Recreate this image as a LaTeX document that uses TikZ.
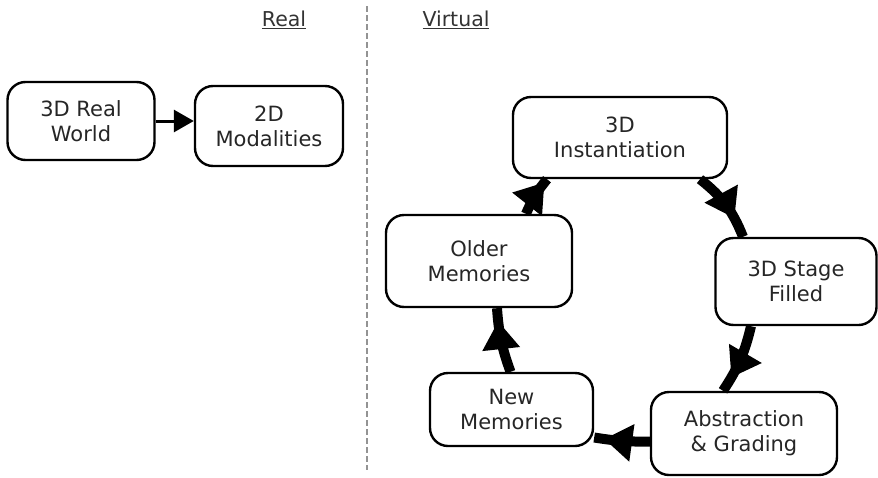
\documentclass[tikz,border=0pt]{standalone}
\usepackage{fontspec}
\setmainfont{DejaVu Sans}
\usetikzlibrary{arrows.meta,decorations.markings}

\begin{document}
\begin{tikzpicture}[x=1pt,y=-1pt,
  box/.style={draw, line width=2.4pt, rounded corners=18pt, align=center,
    font=\fontsize{21}{25}\selectfont, text=black!85, inner sep=0pt},
  heading/.style={font=\fontsize{20.5}{25}\selectfont, text=black!80, inner sep=0pt},
  flow/.style={line width=10pt, postaction={decorate},
    decoration={markings, mark=at position #1 with {\arrow{Triangle[length=28pt,width=36pt]}}}},
  thin flow/.style={line width=3pt, -{Triangle[length=20pt,width=22pt]}}]
\useasboundingbox (0,0) rectangle (878,477);

% section headings and divider
\node[heading] (real) at (284,20) {\underline{Real}};
\node[heading] (virtual) at (456,20) {\underline{Virtual}};
\coordinate (dtop) at (367,6);
\coordinate (dbot) at (367,470);
\draw[gray!85, line width=1.6pt, dash pattern=on 6pt off 3pt] (dtop) -- (dbot);

% real side
\node[box, minimum width=147pt, minimum height=78pt] (world) at (81,121) {3D Real\\World};
\node[box, minimum width=148pt, minimum height=80pt] (modal) at (269,126) {2D\\Modalities};
\draw[thin flow] (world.east) -- (world.east -| modal.west);

% virtual cycle
\node[box, minimum width=214pt, minimum height=81pt] (inst) at (620,137.5) {3D\\Instantiation};
\node[box, minimum width=186pt, minimum height=92pt] (older) at (479,261) {Older\\Memories};
\node[box, minimum width=161pt, minimum height=87pt] (stage) at (796,281.5) {3D Stage\\Filled};
\node[box, minimum width=163pt, minimum height=73pt] (new) at (511.5,409.5) {New\\Memories};
\node[box, minimum width=186pt, minimum height=83pt] (abs) at (744,433.5) {Abstraction\\\& Grading};

\draw[flow=0.9] ([xshift=47pt]older.north) to[bend left=8] ([xshift=-73pt]inst.south);
\draw[flow=0.72] ([xshift=80pt]inst.south) to[bend left=15] ([xshift=-53pt]stage.north);
\draw[flow=0.78] ([xshift=-45pt]stage.south) to[bend left=10] ([xshift=-21pt]abs.north);
\draw[flow=0.82] ([yshift=-8pt]abs.west) to[bend left=5] ([yshift=-28pt]new.east);
\draw[flow=0.8] ([xshift=-1pt]new.north) to[bend left=8] ([xshift=18pt]older.south);
\end{tikzpicture}
\end{document}
